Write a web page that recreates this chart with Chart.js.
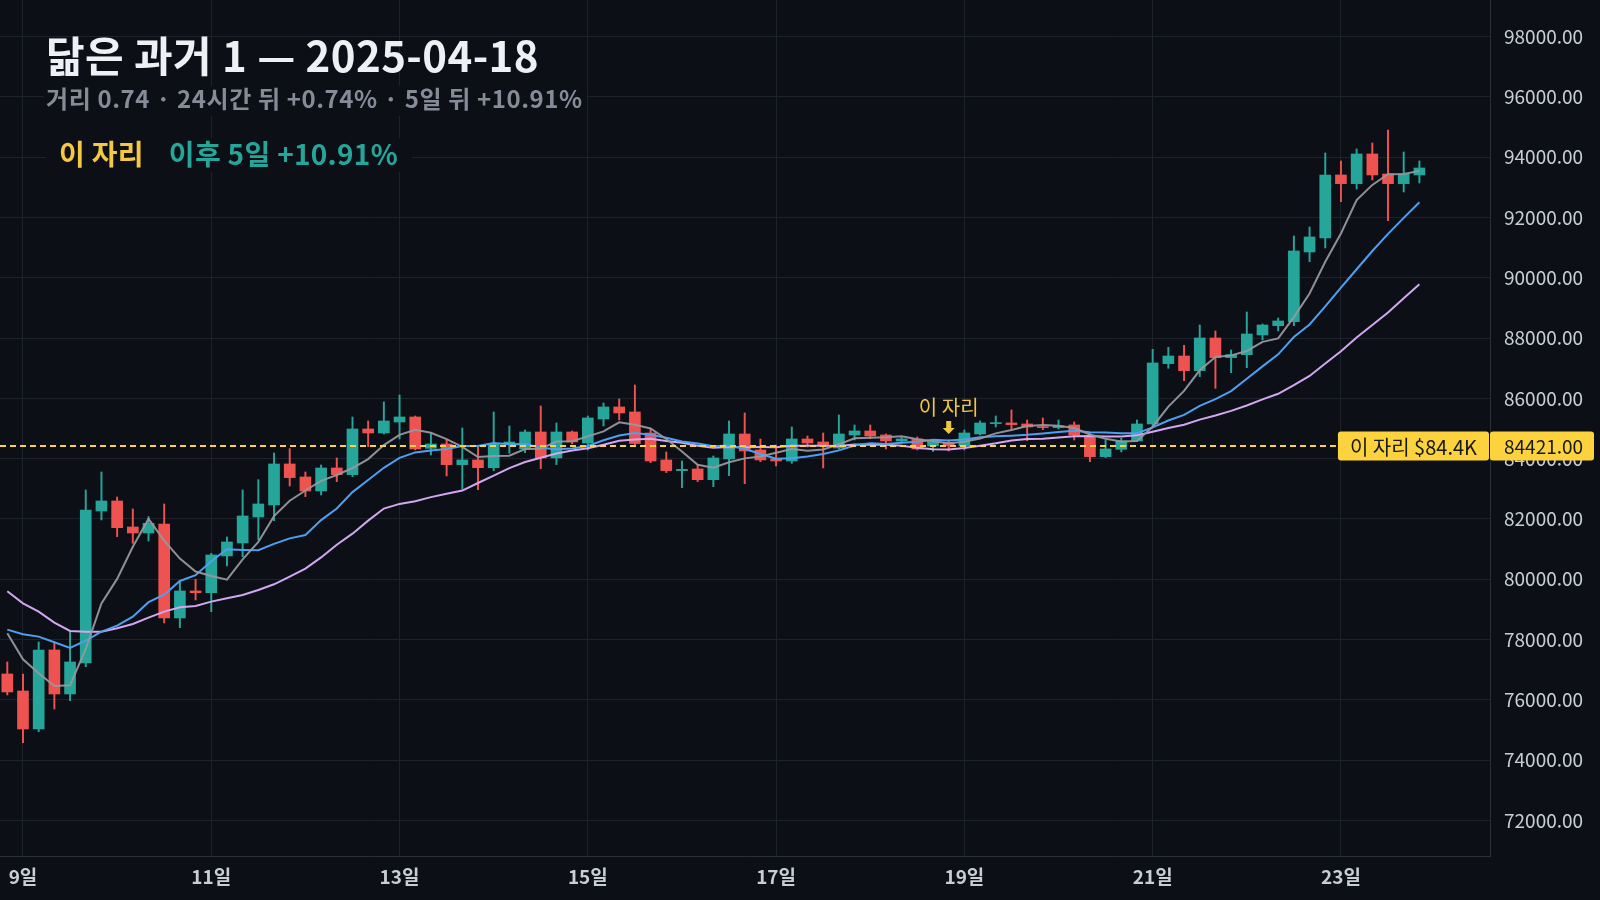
<!DOCTYPE html>
<html lang="ko">
<head>
<meta charset="utf-8">
<title>닮은 과거 1 — 2025-04-18</title>
<script src="https://cdn.jsdelivr.net/npm/chart.js@4.4.1/dist/chart.umd.min.js"></script>
<style>
    html, body { margin: 0; padding: 0; background: #0c0f16; }
    #wrap { width: 1600px; height: 900px; }
</style>
</head>
<body>
<div id="wrap"><canvas id="myChart" width="1600" height="900"></canvas></div>
<script>
// 4시간봉, 4/8 20:00 ~ 4/23 20:00
const opens = [
    76857, 76293, 75032, 77653, 76193, 77222, 82263, 82595, 81732, 81533,
    81832, 78714, 79610, 79554, 80771, 81202, 82064, 82462, 83822, 83391,
    82926, 83689, 83468, 84983, 84850, 85215, 85381, 84342, 84485, 83800,
    83955, 83700, 84485, 84320, 84883, 84021, 84883, 84518, 85315, 85713,
    85547, 84850, 83955, 83601, 83656, 83302, 83988, 84817, 84286, 83988,
    83921, 84651, 84552, 84353, 84784, 84917, 84784, 84585, 84651, 84419,
    84518, 84419, 84817, 85160, 85182, 85149, 85049, 85027, 85116, 84718,
    84065, 84308, 84585, 85149, 87150, 87404, 86918, 88001, 87349, 87448,
    88101, 88410, 88543, 90854, 91318, 93408, 93120, 94104, 93441, 93120,
    93408
];
const highs = [
    77255, 76857, 77918, 77874, 78261, 82960, 83557, 82727, 82329, 82075,
    82495, 79941, 79997, 80859, 81401, 82960, 83302, 84187, 84331, 83557,
    83789, 84021, 85381, 85248, 85878, 86111, 85414, 84850, 84618, 85016,
    84419, 85547, 85082, 84950, 85746, 85182, 84917, 85414, 85845, 85978,
    86442, 85005, 84220, 83921, 83789, 84087, 85248, 85514, 84651, 84452,
    85049, 84751, 84850, 85447, 85115, 85115, 84817, 84718, 84718, 84585,
    84618, 84950, 85248, 85414, 85613, 85281, 85348, 85281, 85215, 84839,
    84618, 84673, 85281, 87625, 87692, 87758, 88432, 88233, 87603, 88863,
    88466, 88664, 91384, 91683, 94137, 93872, 94270, 94469, 94900, 94170,
    93872
];
const lows = [
    76160, 74579, 74944, 75696, 75972, 77100, 81965, 81412, 81191, 81268,
    78548, 78393, 79311, 78924, 80439, 80748, 81301, 81942, 83092, 82739,
    82794, 83236, 83402, 84397, 84817, 84651, 84287, 84120, 83424, 82993,
    82971, 83601, 84176, 84198, 83667, 83800, 84485, 84287, 85082, 85281,
    84450, 83866, 83535, 83037, 83236, 83070, 83435, 83170, 83900, 83756,
    83844, 84386, 83689, 84319, 84618, 84662, 84319, 84518, 84286, 84242,
    84253, 84286, 84784, 85049, 84994, 84596, 84961, 84983, 84618, 83899,
    84032, 84220, 84563, 85100, 86995, 86586, 86719, 86332, 86851, 87017,
    87935, 88233, 88410, 90533, 90986, 92523, 92943, 93242, 91893, 92844,
    93142
];
const closes = [
    76260, 75032, 77653, 76193, 77255, 82296, 82595, 81710, 81533, 81854,
    78714, 79610, 79554, 80804, 81235, 82097, 82495, 83822, 83369, 82926,
    83689, 83468, 84983, 84850, 85248, 85381, 84320, 84485, 83800, 83955,
    83700, 84485, 84551, 84883, 84021, 84883, 84552, 85348, 85713, 85514,
    84500, 83920, 83601, 83645, 83302, 84021, 84817, 84253, 83955, 83921,
    84651, 84518, 84463, 84817, 84917, 84751, 84585, 84651, 84319, 84552,
    84421, 84850, 85182, 85182, 85127, 85049, 85027, 85082, 84784, 84065,
    84320, 84585, 85149, 87172, 87404, 86918, 88001, 87349, 87448, 88134,
    88432, 88565, 90887, 91351, 93408, 93120, 94104, 93408, 93120, 93441,
    93640
];

// 이동평균선 (회색 5, 파랑 10, 보라 20)
const ma5 = [
    78206, 77344, 76880, 76459, 76479, 77686, 79198, 80010, 81078, 81998,
    81281, 80684, 80253, 80107, 79983, 80660, 81237, 82091, 82604, 82942,
    83260, 83455, 83687, 83983, 84448, 84786, 84956, 84857, 84647, 84388,
    84052, 84085, 84098, 84315, 84328, 84565, 84578, 84737, 84903, 85202,
    85125, 84999, 84650, 84236, 83794, 83698, 83877, 84008, 84070, 84193,
    84319, 84260, 84302, 84474, 84673, 84693, 84707, 84744, 84645, 84572,
    84506, 84559, 84665, 84837, 84952, 85078, 85113, 85093, 85014, 84801,
    84656, 84567, 84581, 85058, 85726, 86246, 86929, 87369, 87424, 87570,
    87873, 87986, 88693, 89474, 90529, 91466, 92574, 93078, 93432, 93439,
    93543
];
const ma10 = [
    78327, 78172, 78095, 77907, 77719, 77962, 78261, 78460, 78758, 79238,
    79484, 79941, 80131, 80593, 80991, 80971, 80961, 81172, 81355, 81463,
    81960, 82346, 82889, 83293, 83695, 84023, 84206, 84272, 84315, 84418,
    84419, 84521, 84478, 84481, 84358, 84308, 84332, 84418, 84609, 84765,
    84845, 84789, 84694, 84570, 84498, 84412, 84438, 84329, 84153, 83994,
    84009, 84068, 84155, 84272, 84433, 84506, 84483, 84523, 84559, 84622,
    84599, 84633, 84705, 84741, 84762, 84792, 84836, 84879, 84926, 84877,
    84867, 84840, 84837, 85036, 85264, 85451, 85748, 85975, 86241, 86648,
    87059, 87457, 88031, 88449, 89049, 89670, 90280, 90886, 91453, 91984,
    92504
];
const ma20 = [
    79599, 79201, 78924, 78559, 78283, 78261, 78261, 78371, 78515, 78725,
    78924, 79068, 79112, 79256, 79366, 79477, 79643, 79831, 80085, 80350,
    80722, 81144, 81510, 81943, 82343, 82497, 82583, 82722, 82835, 82940,
    83190, 83433, 83683, 83887, 84026, 84166, 84269, 84345, 84462, 84591,
    84632, 84655, 84586, 84525, 84428, 84360, 84385, 84373, 84381, 84379,
    84427, 84428, 84424, 84421, 84466, 84459, 84461, 84426, 84356, 84308,
    84304, 84351, 84430, 84506, 84598, 84649, 84660, 84701, 84742, 84750,
    84733, 84736, 84771, 84889, 85013, 85121, 85292, 85427, 85583, 85762,
    85963, 86149, 86434, 86742, 87157, 87560, 88014, 88430, 88847, 89316,
    89782
];

const tickDays = [9, 11, 13, 15, 17, 19, 21, 23];
const xTickLabels = ['9일', '11일', '13일', '15일', '17일', '19일', '21일', '23일'];
const yTicks = [72000, 74000, 76000, 78000, 80000, 82000, 84000, 86000,
                88000, 90000, 92000, 94000, 96000, 98000];

const refPrice = 84421;
const markIndex = 60;
const titleText = '닮은 과거 1 — 2025-04-18';
const subText = '거리 0.74 · 24시간 뒤 +0.74% · 5일 뒤 +10.91%';
const legendA = '이 자리';
const legendB = '이후 5일 +10.91%';

const UP = '#26a69a';
const DOWN = '#ef5350';
const BG = '#0c0f16';
const GRID = '#1e222b';
const YELLOW = '#fcd33d';
const FONT = '"Noto Sans CJK KR", "Noto Sans", sans-serif';

const candleColor = (i) => closes[i] >= opens[i] ? UP : DOWN;

const bgPlugin = {
    id: 'bg',
    beforeDraw(chart) {
        const c = chart.ctx;
        c.save();
        c.fillStyle = BG;
        c.fillRect(0, 0, chart.width, chart.height);
        c.restore();
    }
};

const overlayPlugin = {
    id: 'overlay',
    afterDraw(chart) {
        const c = chart.ctx;
        const area = chart.chartArea;
        const xS = chart.scales.x;
        const yS = chart.scales.y;
        const py = yS.getPixelForValue(refPrice);

        // 기준 가격 라벨
        c.save();
        c.font = '20px ' + FONT;
        const refLabel = legendA + ' $' + (refPrice / 1000).toFixed(1) + 'K';
        const lw = c.measureText(refLabel).width + 24;
        const bx = area.right - 1 - lw;

        c.setLineDash([6, 4]);
        c.strokeStyle = YELLOW;
        c.lineWidth = 2;
        c.beginPath();
        c.moveTo(area.left, py);
        c.lineTo(bx - 2, py);
        c.stroke();
        c.setLineDash([]);

        c.fillStyle = YELLOW;
        c.beginPath();
        c.roundRect(bx, py - 14.5, lw, 29, 3);
        c.fill();
        c.beginPath();
        c.roundRect(area.right, py - 14.5, 104, 29, 3);
        c.fill();
        c.fillStyle = '#17181c';
        c.textBaseline = 'middle';
        c.fillText(refLabel, bx + 12, py + 1);
        c.font = '19px ' + FONT;
        c.fillText(refPrice.toFixed(2), area.right + 14, py + 1);

        // 이 자리 마커
        const mx = xS.getPixelForValue(markIndex);
        c.fillStyle = '#f0c63c';
        c.textAlign = 'center';
        c.textBaseline = 'alphabetic';
        c.font = '20px ' + FONT;
        c.fillText(legendA, mx, 415);
        c.beginPath();
        c.rect(mx - 2.5, 421, 5, 7);
        c.moveTo(mx - 6, 428);
        c.lineTo(mx + 6, 428);
        c.lineTo(mx, 434);
        c.closePath();
        c.fill();

        // 제목
        c.textAlign = 'left';
        c.font = 'bold 24px ' + FONT;
        c.letterSpacing = '0.6px';
        const sw = c.measureText(subText).width;
        c.fillStyle = BG;
        c.fillRect(44, 86, sw + 6, 30);
        c.fillStyle = '#868c97';
        c.fillText(subText, 46, 108);

        c.font = 'bold 28px ' + FONT;
        c.letterSpacing = '0.3px';
        const aw = c.measureText(legendA).width;
        const gap = 25;
        const bw = c.measureText(legendB).width;
        c.fillStyle = BG;
        c.fillRect(46, 138, 13 + aw + gap + bw + 14, 34);
        c.fillStyle = '#f5c842';
        c.fillText(legendA, 59, 165);
        c.fillStyle = UP;
        c.fillText(legendB, 59 + aw + gap, 165);

        c.font = 'bold 42px ' + FONT;
        c.letterSpacing = '0.4px';
        c.fillStyle = '#eef0f4';
        c.fillText(titleText, 46, 72);
        c.restore();
    }
};

const ctx = document.getElementById('myChart');

const myChart = new Chart(ctx, {
    type: 'bar',
    data: {
        datasets: [
            {
                type: 'line',
                label: 'MA5',
                data: ma5.map((v, i) => ({ x: i, y: v })),
                borderColor: 'rgba(150, 152, 158, 0.95)',
                borderWidth: 2,
                pointRadius: 0,
                tension: 0,
                order: 0
            },
            {
                type: 'line',
                label: 'MA10',
                data: ma10.map((v, i) => ({ x: i, y: v })),
                borderColor: '#4d9ff2',
                borderWidth: 2,
                pointRadius: 0,
                tension: 0,
                order: 0
            },
            {
                type: 'line',
                label: 'MA20',
                data: ma20.map((v, i) => ({ x: i, y: v })),
                borderColor: '#d3a6f2',
                borderWidth: 2,
                pointRadius: 0,
                tension: 0,
                order: 0
            },
            {
                label: 'body',
                data: opens.map((o, i) => ({ x: i, y: [o, closes[i]] })),
                backgroundColor: opens.map((o, i) => candleColor(i)),
                barThickness: 11,
                minBarLength: 1,
                grouped: false,
                borderWidth: 0,
                order: 1
            },
            {
                label: 'wick',
                data: lows.map((l, i) => ({ x: i, y: [l, highs[i]] })),
                backgroundColor: lows.map((l, i) => candleColor(i)),
                barThickness: 1.3,
                grouped: false,
                borderWidth: 0,
                order: 2
            }
        ]
    },
    options: {
        responsive: false,
        animation: false,
        devicePixelRatio: 1,
        layout: { padding: 0 },
        scales: {
            x: {
                type: 'linear',
                min: -0.465,
                max: 94.5,
                offset: false,
                grid: { color: GRID, drawTicks: false, offset: false },
                border: { color: '#2c3039' },
                afterBuildTicks: (s) => {
                    s.ticks = tickDays.map(d => ({ value: (d - 9) * 6 + 1 }));
                },
                afterFit: (s) => {
                    s.height = 44;
                    s.paddingLeft = 0;
                    s.paddingRight = 0;
                },
                ticks: {
                    color: '#c9cdd5',
                    font: { family: FONT, size: 19, weight: 'bold' },
                    padding: 9,
                    maxRotation: 0,
                    autoSkip: false,
                    callback: (v, idx) => xTickLabels[idx]
                }
            },
            y: {
                type: 'linear',
                position: 'right',
                min: 70819,
                max: 99211,
                grid: { color: GRID, drawTicks: false },
                border: { color: '#2c3039' },
                afterBuildTicks: (s) => {
                    s.ticks = yTicks.map(v => ({ value: v }));
                },
                afterFit: (s) => {
                    s.width = 110;
                    s.paddingTop = 0;
                    s.paddingBottom = 0;
                },
                ticks: {
                    color: '#c9cdd5',
                    font: { family: FONT, size: 19 },
                    padding: 14,
                    callback: (v) => v.toFixed(2)
                }
            }
        },
        plugins: {
            legend: { display: false },
            tooltip: { enabled: false }
        }
    },
    plugins: [bgPlugin, overlayPlugin]
});
</script>
</body>
</html>
